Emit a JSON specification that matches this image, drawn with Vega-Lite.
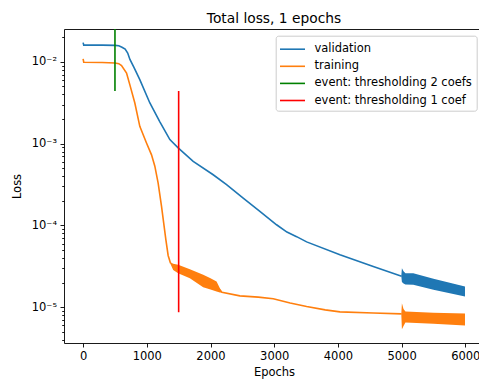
{
  "$schema": "https://vega.github.io/schema/vega-lite/v6.json",
  "autosize": "none",
  "padding": {"left": 64, "top": 29, "right": 0, "bottom": 40},
  "width": 415,
  "height": 314,
  "background": "white",
  "title": {"text": "Total loss, 1 epochs", "fontSize": 13.8, "font": "DejaVu Sans", "fontWeight": "normal", "color": "black", "baseline": "alphabetic", "frame": "group", "offset": 6.5, "dx": 2.5, "dy": 14.5},
  "config": {
    "view": {"stroke": null},
    "font": "DejaVu Sans",
    "axis": {"grid": false, "domainColor": "black", "domainWidth": 0.9, "tickColor": "black", "tickWidth": 0.9, "tickSize": 4, "labelColor": "black", "labelFont": "DejaVu Sans", "labelFontSize": 11.5, "labelPadding": 3.5, "labelOverlap": false, "labelFlush": false, "titleColor": "black", "titleFont": "DejaVu Sans", "titleFontSize": 11.5, "titleFontWeight": "normal"}
  },
  "datasets": {
    "lines": [
      {"epoch": 0, "loss": 0.0172, "series": "validation"},
      {"epoch": 10, "loss": 0.0160, "series": "validation"},
      {"epoch": 300, "loss": 0.0160, "series": "validation"},
      {"epoch": 500, "loss": 0.0159, "series": "validation"},
      {"epoch": 560, "loss": 0.0157, "series": "validation"},
      {"epoch": 610, "loss": 0.0151, "series": "validation"},
      {"epoch": 660, "loss": 0.0143, "series": "validation"},
      {"epoch": 700, "loss": 0.0128, "series": "validation"},
      {"epoch": 735, "loss": 0.0107, "series": "validation"},
      {"epoch": 800, "loss": 0.0085, "series": "validation"},
      {"epoch": 890, "loss": 0.00607, "series": "validation"},
      {"epoch": 1048, "loss": 0.00314, "series": "validation"},
      {"epoch": 1205, "loss": 0.00185, "series": "validation"},
      {"epoch": 1362, "loss": 0.00112, "series": "validation"},
      {"epoch": 1492, "loss": 0.00089, "series": "validation"},
      {"epoch": 1728, "loss": 0.000607, "series": "validation"},
      {"epoch": 2042, "loss": 0.000417, "series": "validation"},
      {"epoch": 2252, "loss": 0.000315, "series": "validation"},
      {"epoch": 2513, "loss": 0.000216, "series": "validation"},
      {"epoch": 2775, "loss": 0.000149, "series": "validation"},
      {"epoch": 3037, "loss": 0.000102, "series": "validation"},
      {"epoch": 3200, "loss": 0.000083, "series": "validation"},
      {"epoch": 3352, "loss": 0.000073, "series": "validation"},
      {"epoch": 3509, "loss": 0.000063, "series": "validation"},
      {"epoch": 4032, "loss": 0.000044, "series": "validation"},
      {"epoch": 4555, "loss": 0.0000316, "series": "validation"},
      {"epoch": 5000, "loss": 0.0000240, "series": "validation"},
      {"epoch": 0, "loss": 0.0109, "series": "training"},
      {"epoch": 10, "loss": 0.0099, "series": "training"},
      {"epoch": 300, "loss": 0.0098, "series": "training"},
      {"epoch": 500, "loss": 0.0097, "series": "training"},
      {"epoch": 560, "loss": 0.0095, "series": "training"},
      {"epoch": 603, "loss": 0.0090, "series": "training"},
      {"epoch": 682, "loss": 0.0073, "series": "training"},
      {"epoch": 733, "loss": 0.00527, "series": "training"},
      {"epoch": 812, "loss": 0.00314, "series": "training"},
      {"epoch": 890, "loss": 0.00163, "series": "training"},
      {"epoch": 995, "loss": 0.00102, "series": "training"},
      {"epoch": 1074, "loss": 0.00073, "series": "training"},
      {"epoch": 1126, "loss": 0.00053, "series": "training"},
      {"epoch": 1178, "loss": 0.00033, "series": "training"},
      {"epoch": 1231, "loss": 0.000171, "series": "training"},
      {"epoch": 1299, "loss": 0.000067, "series": "training"},
      {"epoch": 1335, "loss": 0.000043, "series": "training"},
      {"epoch": 1370, "loss": 0.000035, "series": "training"},
      {"epoch": 1492, "loss": 0.0000295, "series": "training"},
      {"epoch": 1676, "loss": 0.000026, "series": "training"},
      {"epoch": 1885, "loss": 0.000021, "series": "training"},
      {"epoch": 2095, "loss": 0.000018, "series": "training"},
      {"epoch": 2180, "loss": 0.0000153, "series": "training"},
      {"epoch": 2461, "loss": 0.0000138, "series": "training"},
      {"epoch": 2750, "loss": 0.0000133, "series": "training"},
      {"epoch": 2985, "loss": 0.0000127, "series": "training"},
      {"epoch": 3250, "loss": 0.0000113, "series": "training"},
      {"epoch": 3509, "loss": 0.0000102, "series": "training"},
      {"epoch": 3800, "loss": 0.0000093, "series": "training"},
      {"epoch": 4032, "loss": 0.0000088, "series": "training"},
      {"epoch": 4555, "loss": 0.0000085, "series": "training"},
      {"epoch": 5000, "loss": 0.0000083, "series": "training"}
    ],
    "bands": [
      {"epoch": 4995, "lo": 0.0000242, "hi": 0.0000242, "series": "validation", "part": "v2"},
      {"epoch": 5005, "lo": 0.0000204, "hi": 0.0000300, "series": "validation", "part": "v2"},
      {"epoch": 5030, "lo": 0.0000195, "hi": 0.0000275, "series": "validation", "part": "v2"},
      {"epoch": 5060, "lo": 0.0000190, "hi": 0.0000260, "series": "validation", "part": "v2"},
      {"epoch": 5183, "lo": 0.0000188, "hi": 0.0000260, "series": "validation", "part": "v2"},
      {"epoch": 5500, "lo": 0.0000164, "hi": 0.0000224, "series": "validation", "part": "v2"},
      {"epoch": 5995, "lo": 0.0000135, "hi": 0.0000179, "series": "validation", "part": "v2"},
      {"epoch": 1370, "lo": 0.000034, "hi": 0.000034, "series": "training", "part": "t1"},
      {"epoch": 1414, "lo": 0.0000286, "hi": 0.000034, "series": "training", "part": "t1"},
      {"epoch": 1492, "lo": 0.000026, "hi": 0.000033, "series": "training", "part": "t1"},
      {"epoch": 1676, "lo": 0.0000226, "hi": 0.0000292, "series": "training", "part": "t1"},
      {"epoch": 1885, "lo": 0.0000176, "hi": 0.0000249, "series": "training", "part": "t1"},
      {"epoch": 2000, "lo": 0.0000165, "hi": 0.0000227, "series": "training", "part": "t1"},
      {"epoch": 2095, "lo": 0.0000156, "hi": 0.0000206, "series": "training", "part": "t1"},
      {"epoch": 2147, "lo": 0.0000152, "hi": 0.0000171, "series": "training", "part": "t1"},
      {"epoch": 2180, "lo": 0.0000152, "hi": 0.0000155, "series": "training", "part": "t1"},
      {"epoch": 4995, "lo": 0.0000083, "hi": 0.0000083, "series": "training", "part": "t2"},
      {"epoch": 5005, "lo": 0.0000054, "hi": 0.0000112, "series": "training", "part": "t2"},
      {"epoch": 5030, "lo": 0.0000059, "hi": 0.0000095, "series": "training", "part": "t2"},
      {"epoch": 5060, "lo": 0.0000065, "hi": 0.0000089, "series": "training", "part": "t2"},
      {"epoch": 5500, "lo": 0.0000063, "hi": 0.0000086, "series": "training", "part": "t2"},
      {"epoch": 5995, "lo": 0.0000060, "hi": 0.0000084, "series": "training", "part": "t2"}
    ],
    "events": [
      {"epoch": 500, "lo": 0.0044, "hi": 0.03, "series": "event: thresholding 2 coefs"},
      {"epoch": 1500, "lo": 0.0000087, "hi": 0.0044, "series": "event: thresholding 1 coef"}
    ]
  },
  "layer": [
    {
      "data": {"name": "bands"},
      "mark": {"type": "area", "opacity": 1},
      "encoding": {
        "x": {"field": "epoch", "type": "quantitative",
          "scale": {"domain": [-300, 6215], "nice": false, "zero": false},
          "axis": {"values": [0, 1000, 2000, 3000, 4000, 5000, 6000], "format": "d", "title": "Epochs", "titleX": 210, "titleY": 32.7, "titleBaseline": "alphabetic"}},
        "y": {"field": "lo", "type": "quantitative",
          "scale": {"type": "log", "domain": [0.00000366, 0.0252], "nice": false},
          "axis": {
            "values": [0.000004, 0.000005, 0.000006, 0.000007, 0.000008, 0.000009, 0.00001, 0.00002, 0.00003, 0.00004, 0.00005, 0.00006, 0.00007, 0.00008, 0.00009, 0.0001, 0.0002, 0.0003, 0.0004, 0.0005, 0.0006, 0.0007, 0.0008, 0.0009, 0.001, 0.002, 0.003, 0.004, 0.005, 0.006, 0.007, 0.008, 0.009, 0.01, 0.02],
            "labelExpr": "abs(log(datum.value)/LN10 - round(log(datum.value)/LN10)) > 0.01 ? '' : (round(log(datum.value)/LN10) == -5 ? '10⁻⁵' : round(log(datum.value)/LN10) == -4 ? '10⁻⁴' : round(log(datum.value)/LN10) == -3 ? '10⁻³' : '10⁻²')",
            "tickSize": {"condition": {"test": "abs(log(datum.value)/LN10 - round(log(datum.value)/LN10)) > 0.01", "value": 2.3}, "value": 4},
            "title": "Loss", "titleX": -43.3, "titleY": 157, "titleAngle": -90, "titleBaseline": "alphabetic", "titleAlign": "center"}},
        "y2": {"field": "hi"},
        "detail": {"field": "part"},
        "color": {"field": "series", "type": "nominal",
          "scale": {"domain": ["validation", "training", "event: thresholding 2 coefs", "event: thresholding 1 coef"], "range": ["#1f77b4", "#ff7f0e", "#008000", "#ff0000"]}}
      }
    },
    {
      "data": {"name": "lines"},
      "mark": {"type": "line", "strokeWidth": 1.6},
      "encoding": {
        "x": {"field": "epoch", "type": "quantitative", "axis": {"orient": "top", "labels": false, "ticks": false, "title": null, "domain": true}},
        "y": {"field": "loss", "type": "quantitative", "title": "Loss"},
        "color": {"field": "series", "type": "nominal",
          "legend": {"title": null, "orient": "none", "legendX": 211.7, "legendY": 6.7,
            "symbolType": "M-1.47,0H1.47", "symbolSize": 289, "symbolStrokeWidth": 1.6,
            "symbolOffset": 3.3, "padding": 4, "rowPadding": 2.1, "labelOffset": 12.5,
            "labelFont": "DejaVu Sans", "labelFontSize": 11.5, "labelColor": "black",
            "strokeColor": "#cccccc", "fillColor": "rgba(255,255,255,0.8)", "cornerRadius": 2.5}}
      }
    },
    {
      "data": {"name": "events"},
      "mark": {"type": "rule", "strokeWidth": 1.6, "clip": true},
      "encoding": {
        "x": {"field": "epoch", "type": "quantitative", "axis": null},
        "y": {"field": "lo", "type": "quantitative", "title": "Loss"},
        "y2": {"field": "hi"},
        "color": {"field": "series", "type": "nominal"}
      }
    }
  ],
  "resolve": {"axis": {"x": "independent"}}
}
